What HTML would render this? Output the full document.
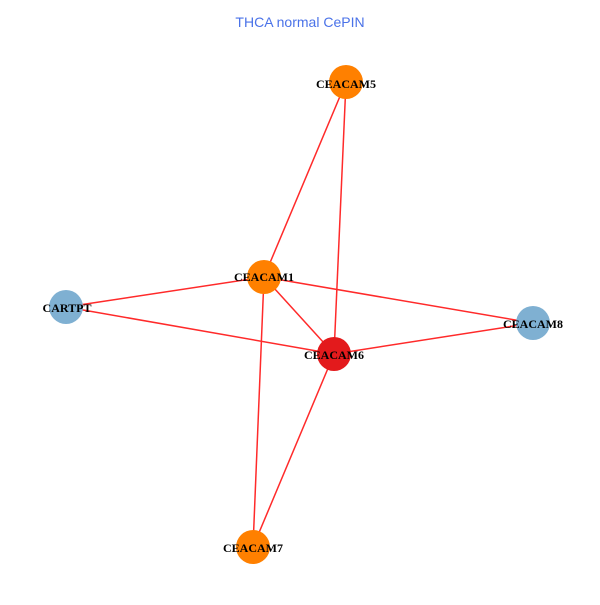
<!DOCTYPE html>
<html><head><style>body{margin:0;background:#fff}</style></head><body>
<svg width="600" height="600" xmlns="http://www.w3.org/2000/svg">
<rect width="600" height="600" fill="#fff"/>
<text x="300" y="27" text-anchor="middle" font-family="Liberation Sans, sans-serif" font-size="14" fill="#4a72e8">THCA normal CePIN</text>
<g stroke="#ff2a2a" stroke-width="1.5">
<line x1="346" y1="82" x2="264" y2="277"/>
<line x1="346" y1="82" x2="334" y2="354"/>
<line x1="264" y1="277" x2="66" y2="307"/>
<line x1="264" y1="277" x2="533" y2="323"/>
<line x1="264" y1="277" x2="334" y2="354"/>
<line x1="264" y1="277" x2="253" y2="547"/>
<line x1="66" y1="307" x2="334" y2="354"/>
<line x1="334" y1="354" x2="533" y2="323"/>
<line x1="334" y1="354" x2="253" y2="547"/>
</g>
<circle cx="346" cy="82" r="17" fill="#ff8000"/>
<circle cx="264" cy="277" r="17" fill="#ff8000"/>
<circle cx="66" cy="307" r="17" fill="#7fb0d2"/>
<circle cx="334" cy="354" r="17" fill="#e31a1c"/>
<circle cx="533" cy="323" r="17" fill="#7fb0d2"/>
<circle cx="253" cy="547" r="17" fill="#ff8000"/>
<g font-family="Liberation Serif, serif" font-weight="bold" font-size="12" fill="#000" text-anchor="middle">
<text x="346" y="88">CEACAM5</text>
<text x="264" y="281">CEACAM1</text>
<text x="67" y="312">CARTPT</text>
<text x="334" y="359">CEACAM6</text>
<text x="533" y="328">CEACAM8</text>
<text x="253" y="552">CEACAM7</text>
</g>
</svg>
</body></html>
